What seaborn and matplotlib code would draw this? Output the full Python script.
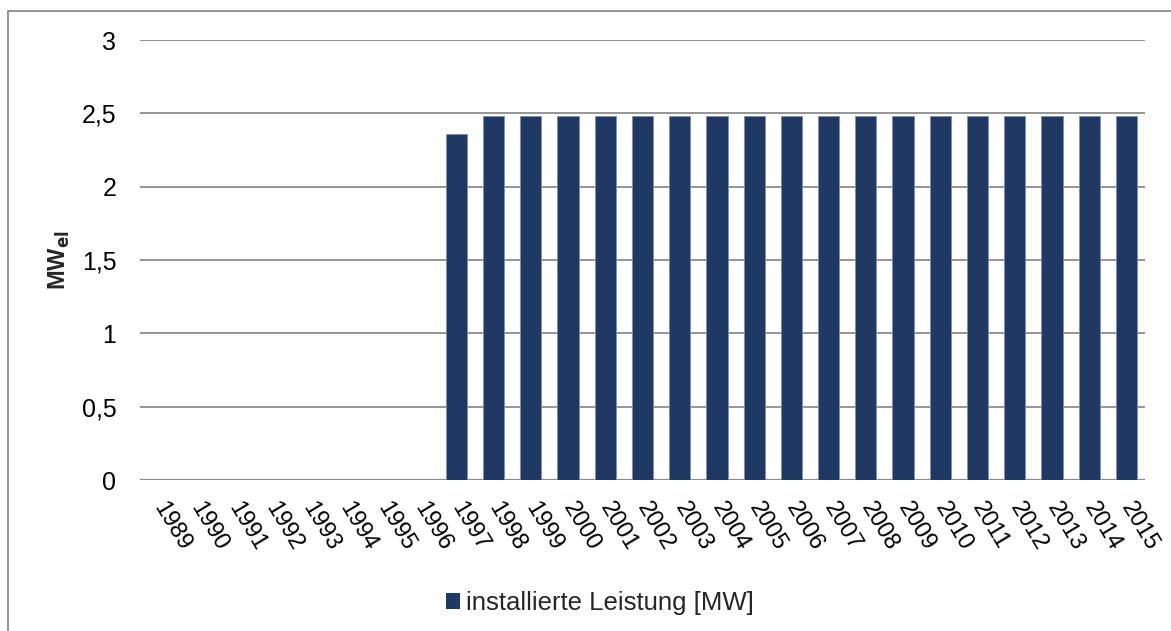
import matplotlib
matplotlib.use("Agg")
import matplotlib.pyplot as plt
from matplotlib.patches import Rectangle, Patch
from matplotlib.ticker import FuncFormatter
import seaborn as sns
import pandas as pd

# data
years = [str(y) for y in range(1989, 2016)]
leistung = [0, 0, 0, 0, 0, 0, 0, 0, 2.36] + [2.48] * 18
series_label = "installierte Leistung [MW]"

df = pd.DataFrame({"Jahr": years, "MW": leistung})

sns.set_theme(style="white")
plt.rcParams["font.family"] = ["Liberation Sans", "DejaVu Sans"]

bar_color = "#203864"
grid_color = "#8c8c8c"

fig = plt.figure(figsize=(11.71, 6.31), dpi=100)
ax = fig.add_axes([140 / 1171, 1 - 480 / 631, 1005 / 1171, 440 / 631])

sns.barplot(data=df, x="Jahr", y="MW", color=bar_color, width=0.57,
            saturation=1, edgecolor="#7f8fae", linewidth=0.6, ax=ax)

# axes styling
ax.set_ylim(0, 3)
ax.set_yticks([0, 0.5, 1, 1.5, 2, 2.5, 3])
ax.yaxis.set_major_formatter(FuncFormatter(lambda v, p: ("%g" % v).replace(".", ",")))
ax.grid(axis="y", color=grid_color, linewidth=1.3)
ax.set_axisbelow(True)
for s in ax.spines.values():
    s.set_visible(False)
ax.axhline(0, color=grid_color, linewidth=1.6, zorder=0.5)
ax.tick_params(axis="both", length=0, colors="black")
ax.tick_params(axis="y", pad=17, labelsize=18)
ax.tick_params(axis="x", pad=17, labelsize=17)
ax.set_xlim(-0.5, len(years) - 0.5)

for lbl in ax.get_xticklabels():
    lbl.set_rotation(-59)
    lbl.set_rotation_mode("anchor")
    lbl.set_ha("left")
    lbl.set_va("center")

ax.set_xlabel("")
ax.set_ylabel(r"MW$_{\mathbf{el}}$", fontsize=17, fontweight="bold", labelpad=7)

# legend
handle = Patch(facecolor=bar_color, edgecolor="none")
fig.legend([handle], [series_label], loc="center", bbox_to_anchor=(600 / 1171, 1 - 603 / 631),
           frameon=False, fontsize=18.5, handlelength=0.55, handleheight=0.55,
           handletextpad=0.22)

# outer chart frame (only left and top edges visible)
fig.patches.append(Rectangle((7.5 / 1171, -0.1), 1.2, 1 - 10.5 / 631 + 0.1,
                             transform=fig.transFigure, fill=False,
                             edgecolor="#8c8c8c", linewidth=1.3))

fig.savefig("out.png", dpi=100)
